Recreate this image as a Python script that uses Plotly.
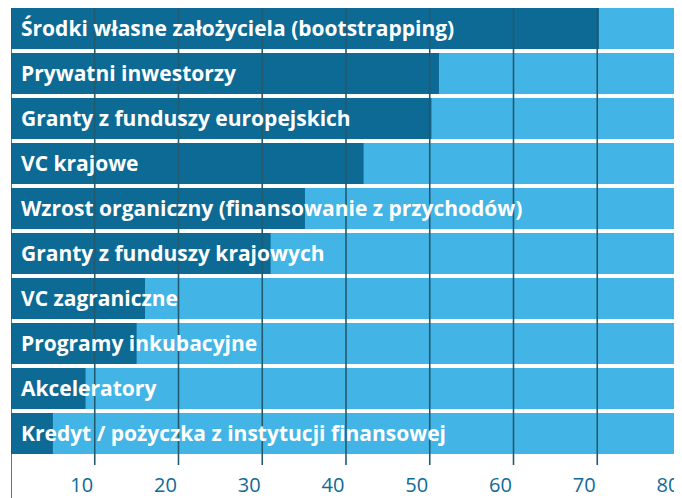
import plotly.graph_objects as go

categories = [
    "Środki własne założyciela (bootstrapping)",
    "Prywatni inwestorzy",
    "Granty z funduszy europejskich",
    "VC krajowe",
    "Wzrost organiczny (finansowanie z przychodów)",
    "Granty z funduszy krajowych",
    "VC zagraniczne",
    "Programy inkubacyjne",
    "Akceleratory",
    "Kredyt / pożyczka z instytucji finansowej",
]
values = [70.2, 51.1, 50.2, 42.1, 35.1, 31.0, 16.0, 15.0, 8.9, 5.0]
scale_max = 80
tick_values = [10, 20, 30, 40, 50, 60, 70, 80]
tick_labels = ["10", "20", "30", "40", "50", "60", "70", "80"]

DARK = "#0c6a95"
LIGHT = "#43b4e6"
GRID = "#245a6e"
TICK = "#106a96"

fig = go.Figure()
fig.add_trace(go.Bar(
    y=categories, x=[scale_max] * len(categories), orientation="h",
    marker=dict(color=LIGHT, line=dict(width=0)), width=0.91,
    hoverinfo="skip", showlegend=False,
))
fig.add_trace(go.Bar(
    y=categories, x=values, orientation="h",
    marker=dict(color=DARK, line=dict(width=0)), width=0.91,
    showlegend=False,
))

for c in categories:
    fig.add_annotation(
        x=0, y=c, xref="x", yref="y", text=c, showarrow=False,
        xanchor="left", yanchor="middle", xshift=8, yshift=1,
        font=dict(family="Open Sans", size=21, color="white", weight="bold"),
    )

# vertical gridlines drawn above bars
for v in tick_values:
    fig.add_shape(type="line", xref="x", yref="paper", x0=v, x1=v, y0=0, y1=1,
                  line=dict(color=GRID, width=1.6), layer="above")
# left axis line extending to the bottom edge
fig.add_shape(type="line", xref="x", yref="paper", x0=0, x1=0, y0=-0.08, y1=1,
              line=dict(color=GRID, width=1.6), layer="above")

# the page adds an 8px body margin, so the figure is sized to the remaining area
fig.update_layout(
    width=674, height=490,
    margin=dict(l=3, r=1, t=0, b=33, autoexpand=False),
    plot_bgcolor="white", paper_bgcolor="white",
    barmode="overlay",
    xaxis=dict(range=[0, scale_max], tickvals=tick_values, ticktext=tick_labels,
               showgrid=False, zeroline=False, showline=False, ticks="",
               automargin=False,
               tickfont=dict(family="Open Sans", size=20, color=TICK),
               ticklabelshift=-13, ticklabelstandoff=6),
    yaxis=dict(type="category", categoryorder="array", categoryarray=categories,
               range=[9.7, -0.456], autorange=False, automargin=False,
               showticklabels=False, showgrid=False, zeroline=False, showline=False, ticks=""),
)

fig.write_html("out.html")
